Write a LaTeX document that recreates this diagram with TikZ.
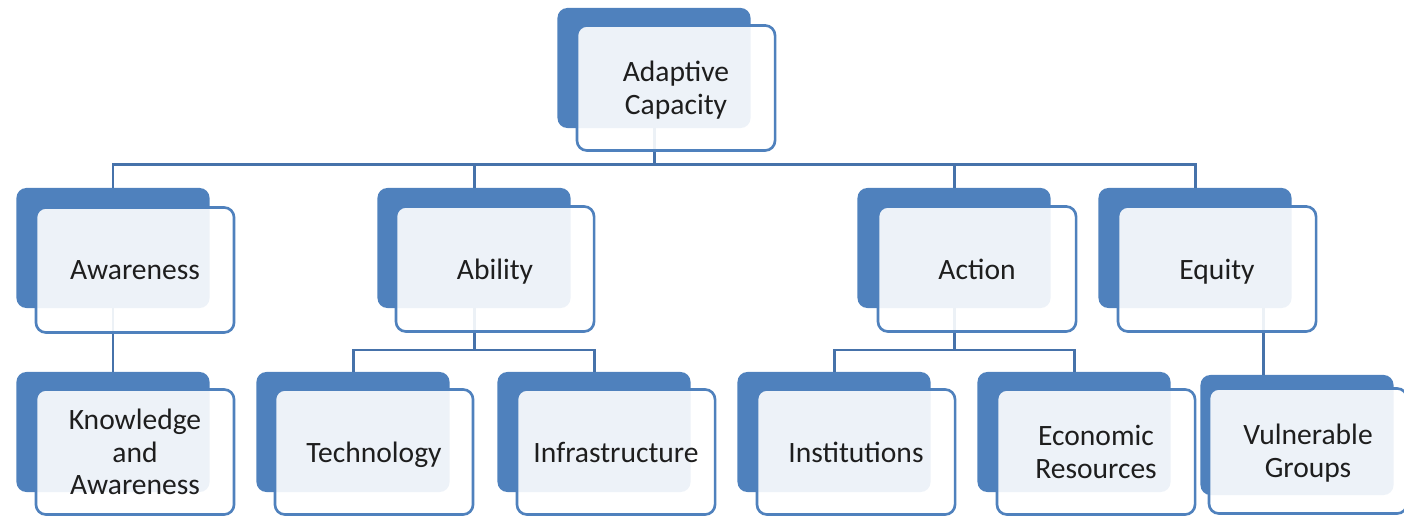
\documentclass[tikz,border=0pt]{standalone}
\usepackage{fontspec}
\setmainfont{Carlito}
\usetikzlibrary{positioning}
\definecolor{capblue}{HTML}{4F81BD}
\definecolor{linkblue}{HTML}{4672AA}
\definecolor{captext}{HTML}{1E1E1E}

\tikzset{
  backbox/.style={fill=capblue, rounded corners=0.1cm, inner sep=0pt, outer sep=0pt,
    minimum width=1.93cm, minimum height=1.2cm},
  frontbox/.style={draw=capblue, line width=0.75pt, fill=white, fill opacity=0.9, text opacity=1,
    rounded corners=0.1cm, inner sep=0pt, outer sep=0pt, minimum width=1.98cm, minimum height=1.25cm,
    align=center, text=captext, text depth=0pt, font=\fontsize{8.4}{9.3}\selectfont},
  link/.style={linkblue, line width=0.85pt}
}

\begin{document}
\begin{tikzpicture}[x=0.01cm, y=-0.01cm]

\useasboundingbox (0,0) rectangle (1404,516);

% back boxes
\node[backbox] (adaB) at (654,68) {};
\node[backbox] (awaB) at (113,248) {};
\node[backbox] (abiB) at (474,248) {};
\node[backbox] (actB) at (954,248) {};
\node[backbox] (equB) at (1195,248) {};
\node[backbox] (knoB) at (113,432) {};
\node[backbox] (tecB) at (353,432) {};
\node[backbox] (infB) at (594,432) {};
\node[backbox] (insB) at (834,432) {};
\node[backbox] (ecoB) at (1074,432) {};
\node[backbox] (vulB) at (1297,435) {};

% connectors
\coordinate (bus) at (0,165);
\coordinate (subbus) at (0,350);
\coordinate (equdrop) at (1263,308);

\draw[link] (adaB.south) -- (adaB.south |- bus);
\draw[link] (awaB.north) -- (awaB.north |- bus) -| (equB.north);
\draw[link] (abiB.north) -- (abiB.north |- bus);
\draw[link] (actB.north) -- (actB.north |- bus);

\draw[link] (awaB.south) -- (knoB.north);
\draw[link] (abiB.south) -- (abiB.south |- subbus);
\draw[link] (tecB.north) -- (tecB.north |- subbus) -| (infB.north);
\draw[link] (actB.south) -- (actB.south |- subbus);
\draw[link] (insB.north) -- (insB.north |- subbus) -| (ecoB.north);
\draw[link] (equdrop) -- (equdrop |- vulB.north);

% front boxes
\node[frontbox] (ada) at ([shift={(22,20)}]adaB) {Adaptive\\Capacity};
\node[frontbox] (awa) at ([shift={(22,22)}]awaB) {Awareness};
\node[frontbox] (abi) at ([shift={(21,21)}]abiB) {Ability};
\node[frontbox] (act) at ([shift={(23,21)}]actB) {Action};
\node[frontbox] (equ) at ([shift={(22,21)}]equB) {Equity};
\node[frontbox] (kno) at ([shift={(22,20)}]knoB) {Knowledge\\and\\Awareness};
\node[frontbox] (tec) at ([shift={(21,20)}]tecB) {Technology};
\node[frontbox] (inf) at ([shift={(22,20)}]infB) {Infrastructure};
\node[frontbox] (ins) at ([shift={(22,20)}]insB) {Institutions};
\node[frontbox] (eco) at ([shift={(22,20)}]ecoB) {Economic\\Resources};
\node[frontbox] (vul) at ([shift={(11,16)}]vulB) {Vulnerable\\Groups};

\end{tikzpicture}
\end{document}
